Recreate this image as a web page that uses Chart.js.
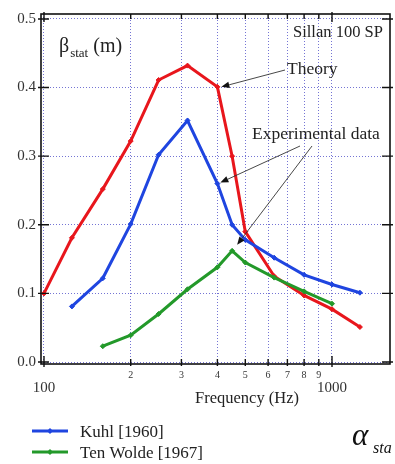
<!DOCTYPE html>
<html><head><meta charset="utf-8">
<script src="https://cdn.jsdelivr.net/npm/chart.js@4"></script>
<style>html,body{margin:0;padding:0;background:#fff}#wrap{width:395px;height:464px;position:relative}</style>
</head><body>
<div id="wrap"><canvas id="c" width="395" height="464"></canvas></div>
<script>
// ---- data ----
const freqTheory = [100,125,160,200,250,315,400,450,500,630,800,1000,1250];
const theory     = [0.100,0.181,0.252,0.322,0.411,0.432,0.401,0.300,0.190,0.125,0.097,0.077,0.051];
const freqKuhl   = [125,160,200,250,315,400,450,500,630,800,1000,1250];
const kuhl       = [0.081,0.122,0.201,0.302,0.352,0.260,0.200,0.178,0.152,0.127,0.113,0.101];
const freqWolde  = [160,200,250,315,400,450,500,630,800,1000];
const tenWolde   = [0.023,0.039,0.070,0.106,0.138,0.162,0.145,0.123,0.103,0.085];
const xTickValues = [100,200,300,400,500,600,700,800,900,1000];
const yTickValues = [0,0.1,0.2,0.3,0.4,0.5];
const seriesNames = ['Theory','Kuhl [1960]','Ten Wolde [1967]'];

const RED='#e8161c', BLUE='#1f45e0', GREEN='#23992a', GRID='#7474d4';
const SERIF='"Liberation Serif", "DejaVu Serif", serif';
const pts=(xs,ys)=>xs.map((x,i)=>({x:x,y:ys[i]}));
function ds(label,xs,ys,color,order){
  return {label:label,data:pts(xs,ys),borderColor:color,backgroundColor:color,borderWidth:3,
    pointStyle:'rectRot',pointRadius:2.5,pointBorderWidth:1,pointBackgroundColor:color,pointBorderColor:color,
    tension:0,order:order};
}

function arrow(ctx,x1,y1,x2,y2){
  ctx.save();
  ctx.strokeStyle='#333';ctx.fillStyle='#111';ctx.lineWidth=0.9;
  const a=Math.atan2(y2-y1,x2-x1), L=8, W=3.2;
  const bx=x2-L*Math.cos(a), by=y2-L*Math.sin(a);
  ctx.beginPath();ctx.moveTo(x1,y1);ctx.lineTo(bx,by);ctx.stroke();
  ctx.beginPath();ctx.moveTo(x2,y2);
  ctx.lineTo(bx+W*Math.sin(a),by-W*Math.cos(a));
  ctx.lineTo(bx-W*Math.sin(a),by+W*Math.cos(a));
  ctx.closePath();ctx.fill();
  ctx.restore();
}

const decor={
  id:'decor',
  afterDraw(chart){
    const ctx=chart.ctx, a=chart.chartArea, xs=chart.scales.x, ys=chart.scales.y;
    ctx.save();
    // frame
    ctx.strokeStyle='#111';ctx.lineWidth=1.6;
    ctx.strokeRect(a.left,a.top,a.right-a.left,a.bottom-a.top);
    // x ticks (top & bottom)
    ctx.lineWidth=1.4;
    xTickValues.forEach(v=>{
      if(v===100) return;
      const px=xs.getPixelForValue(v), big=(v===1000);
      ctx.beginPath();
      ctx.moveTo(px,a.top-(big?2:0));ctx.lineTo(px,a.top+(big?8:5));
      ctx.moveTo(px,a.bottom-(big?8:5));ctx.lineTo(px,a.bottom+(big?3:2));
      ctx.stroke();
    });
    // y ticks (left & right)
    yTickValues.forEach(v=>{
      const py=ys.getPixelForValue(v);
      ctx.beginPath();
      ctx.moveTo(a.left-3,py);ctx.lineTo(a.left+8,py);
      ctx.moveTo(a.right-8,py);ctx.lineTo(a.right+3,py);
      ctx.stroke();
    });
    const p100=xs.getPixelForValue(100);
    ctx.beginPath();ctx.moveTo(p100,a.bottom-8);ctx.lineTo(p100,a.bottom+3);
    ctx.moveTo(p100,a.top-2);ctx.lineTo(p100,a.top+8);ctx.stroke();

    // texts
    ctx.fillStyle='#222';ctx.textBaseline='alphabetic';ctx.textAlign='left';
    let x=59;
    ctx.font='20px '+SERIF;ctx.fillText('β',x,52);x+=ctx.measureText('β').width+1;
    ctx.font='13px '+SERIF;ctx.fillText('stat',x,57);x+=ctx.measureText('stat').width;
    ctx.font='20px '+SERIF;ctx.fillText(' (m)',x,52);
    ctx.font='16.5px '+SERIF;ctx.fillText('Sillan 100 SP',293,37);
    ctx.font='17.5px '+SERIF;ctx.fillText('Theory',287,74);
    ctx.fillText('Experimental data',252,139);
    ctx.textAlign='center';
    ctx.font='16.5px '+SERIF;ctx.fillText('Frequency (Hz)',247,403);

    // arrows
    const rx=xs.getPixelForValue(400), ry=ys.getPixelForValue(theory[6]);
    arrow(ctx,285,70,rx+4,ry);
    const bx=xs.getPixelForValue(400), by=ys.getPixelForValue(kuhl[5]);
    arrow(ctx,300,146,bx+3,by-1);
    const gx=xs.getPixelForValue(450), gy=ys.getPixelForValue(tenWolde[5]);
    arrow(ctx,312,146,gx+5,gy-6);

    // legend
    const leg=[[seriesNames[1],BLUE,431],[seriesNames[2],GREEN,452]];
    leg.forEach(([t,c,y])=>{
      ctx.strokeStyle=c;ctx.lineWidth=3;
      ctx.beginPath();ctx.moveTo(32,y);ctx.lineTo(68,y);ctx.stroke();
      ctx.fillStyle=c;ctx.beginPath();
      ctx.moveTo(50,y-3);ctx.lineTo(53,y);ctx.lineTo(50,y+3);ctx.lineTo(47,y);ctx.closePath();ctx.fill();
      ctx.fillStyle='#222';ctx.textAlign='left';ctx.font='17px '+SERIF;
      ctx.fillText(t,80,y+6);
    });
    // alpha_sta
    ctx.fillStyle='#111';
    ctx.font='italic 31px '+SERIF;ctx.fillText('α',352,445);
    ctx.font='italic 16px '+SERIF;ctx.fillText('sta',373,453);
    ctx.restore();
  }
};

new Chart(document.getElementById('c'),{
  type:'line',
  data:{datasets:[
    ds(seriesNames[0],freqTheory,theory,RED,3),
    ds(seriesNames[1],freqKuhl,kuhl,BLUE,2),
    ds(seriesNames[2],freqWolde,tenWolde,GREEN,1)
  ]},
  options:{
    responsive:false,animation:false,devicePixelRatio:1,
    layout:{padding:{left:0,right:5,top:10,bottom:0}},
    plugins:{legend:{display:false},tooltip:{enabled:false}},
    scales:{
      x:{type:'logarithmic',min:97.63,max:1590,
        afterFit(s){s.height=100;},
        afterBuildTicks(s){s.ticks=xTickValues.map(v=>({value:v}));},
        grid:{color:GRID,lineWidth:1,drawTicks:false},
        border:{display:false,dash:[1,2]},
        ticks:{autoSkip:false,maxRotation:0,padding:5,color:'#333',
          callback:(v)=> (v===100||v===1000)?['',String(v)]:String(v/100),
          font:(c)=>{const v=c.tick&&c.tick.value;return (v===100||v===1000)?{family:SERIF,size:15,lineHeight:0.85}:{family:SERIF,size:10,lineHeight:1.2};}
        }
      },
      y:{type:'linear',min:-0.0029,max:0.5072,
        afterFit(s){s.width=41;},
        afterBuildTicks(s){s.ticks=yTickValues.map(v=>({value:v}));},
        grid:{color:GRID,lineWidth:1,drawTicks:false},
        border:{display:false,dash:[1,2]},
        ticks:{padding:5,color:'#333',font:{family:SERIF,size:15},callback:(v)=>Number(v).toFixed(1)}
      }
    }
  },
  plugins:[decor]
});
</script>
</body></html>
